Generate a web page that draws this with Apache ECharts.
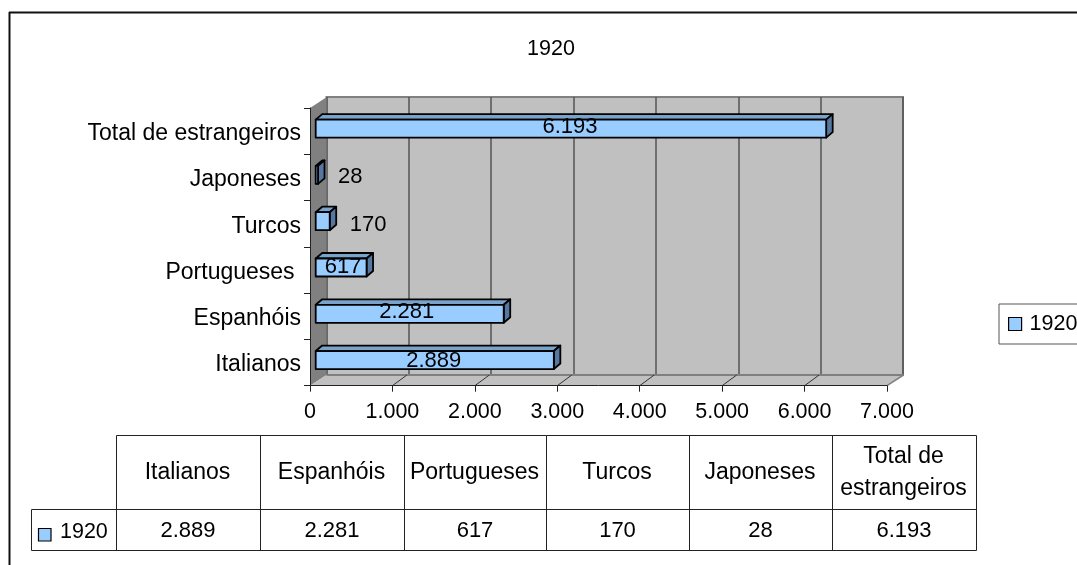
<!DOCTYPE html>
<html>
<head>
<meta charset="utf-8">
<style>html,body{margin:0;padding:0;background:#fff;overflow:hidden}#c{width:1077px;height:565px}</style>
<script src="https://cdn.jsdelivr.net/npm/echarts@6/dist/echarts.min.js"></script>
</head>
<body>
<div id="c"></div>
<script>
const categories = ['Italianos', 'Espanhóis', 'Portugueses', 'Turcos', 'Japoneses', 'Total de estrangeiros'];
const tableHeaders = ['Italianos', 'Espanhóis', 'Portugueses', 'Turcos', 'Japoneses', 'Total de\nestrangeiros'];
const values1920 = [2889, 2281, 617, 170, 28, 6193];
const labelShiftX = [-1, -3, 2, 0, 0, -1];
const labelShiftY = [0.5, -2, -1, 3.5, 2, -2];
const seriesName = '1920';
const axisTicks = [0, 1000, 2000, 3000, 4000, 5000, 6000, 7000];
const colLines = [116, 260, 404, 546, 689, 832, 976];

const FONT = '"Liberation Sans", Arial, sans-serif';
const FS = 21.5, FS_WIDE = 23, FS_NUM = 22;
const fmt = v => String(v).replace(/\B(?=(\d{3})+$)/g, '.');
const chart = echarts.init(document.getElementById('c'), null, {renderer: 'canvas'});

const DX = 6.5, DY = 5.5, BAR_H = 18, BAR_SHIFT = -2.5, BAR_X0 = 5.7;
const WALL_DX = 16.5, WALL_DY = 10.7;

function renderFrame(params, api) {
  const cs = params.coordSys, b = cs.y + cs.height, t = cs.y, l = cs.x;
  const kids = [];
  if (params.dataIndex === 0) {
    kids.push({type: 'polygon', shape: {points: [[l, t], [l + WALL_DX, t - WALL_DY], [l + WALL_DX, b - WALL_DY], [l, b]]}, style: {fill: '#808080'}});
    kids.push({type: 'polygon', shape: {points: [[l, b], [l + WALL_DX, b - WALL_DY], [l + cs.width + WALL_DX, b - WALL_DY], [l + cs.width, b]]}, style: {fill: '#c0c0c0'}});
    kids.push({type: 'line', shape: {x1: l + WALL_DX, y1: b - WALL_DY, x2: l + cs.width + WALL_DX, y2: b - WALL_DY}, style: {stroke: '#808080', lineWidth: 2}});
    kids.push({type: 'line', shape: {x1: l + cs.width, y1: b, x2: l + cs.width + WALL_DX, y2: b - WALL_DY}, style: {stroke: '#808080', lineWidth: 1.5}});
  }
  const x = api.coord([api.value(0), 0])[0];
  if (api.value(0) > 0 && api.value(0) < 7000) {
    kids.push({type: 'line', shape: {x1: x, y1: b, x2: x + WALL_DX - 2, y2: b - WALL_DY}, style: {stroke: '#333', lineWidth: 1}});
  }
  return {type: 'group', children: kids};
}

function renderBar(params, api) {
  const v = api.value(0), i = api.value(1);
  const p0 = api.coord([0, i]), p1 = api.coord([v, i]);
  const x0 = p0[0] + BAR_X0, x1 = p1[0] + BAR_X0, cy = p0[1] + BAR_SHIFT;
  const yt = cy - BAR_H / 2, yb = cy + BAR_H / 2;
  const st = {stroke: '#000', lineWidth: 1.8, lineJoin: 'round'};
  const small = v < 500;
  return {type: 'group', children: [
    {type: 'polygon', shape: {points: [[x0, yt], [x0 + DX, yt - DY], [x1 + DX, yt - DY], [x1, yt]]}, style: Object.assign({fill: '#7aa3cc'}, st)},
    {type: 'polygon', shape: {points: [[x1, yt], [x1 + DX, yt - DY], [x1 + DX, yb - DY], [x1, yb]]}, style: Object.assign({fill: '#56779f'}, st)},
    {type: 'rect', shape: {x: x0, y: yt, width: x1 - x0, height: BAR_H}, style: Object.assign({fill: '#99ccff'}, st)},
    {type: 'text', z2: 10, style: {
      text: fmt(v),
      x: small ? x1 + 20 : (x0 + x1) / 2 + labelShiftX[params.dataIndex],
      y: cy + labelShiftY[params.dataIndex],
      align: small ? 'left' : 'center', verticalAlign: 'middle',
      font: FS_NUM + 'px ' + FONT, fill: '#000'
    }}
  ]};
}

const graphics = [];
const TBL = '#222';
function line(x1, y1, x2, y2, stroke, w) {
  graphics.push({type: 'line', silent: true, z: 20, shape: {x1, y1, x2, y2}, style: {stroke: stroke || TBL, lineWidth: w || 1}});
}
function txt(s, x, y, size, align) {
  graphics.push({type: 'text', silent: true, z: 20, x, y, style: {text: s, align: align || 'center', verticalAlign: 'middle', font: size + 'px ' + FONT, fill: '#000', lineHeight: 32}});
}
// outer frame (only left and top edges are visible)
line(9.5, 12, 9.5, 565, '#111', 2);
line(9, 12.5, 1077, 12.5, '#111', 2);
// table
const Y0 = 435.5, Y1 = 509.5, Y2 = 550.5, XL = 31.5;
line(colLines[0] + .5, Y0, colLines[6] + .5, Y0);
line(XL, Y1, colLines[6] + .5, Y1);
line(XL, Y2, colLines[6] + .5, Y2);
line(XL, Y1, XL, Y2);
colLines.forEach(x => line(x + .5, Y0, x + .5, Y2));
tableHeaders.forEach((h, i) => {
  const mid = (colLines[i] + colLines[i + 1]) / 2;
  txt(h, mid - 0.5, (Y0 + Y1) / 2 + .5, FS_WIDE);
  txt(fmt(values1920[i]), mid, (Y1 + Y2) / 2 + 1, FS_NUM);
});
graphics.push({type: 'rect', silent: true, z: 20, shape: {x: 38.5, y: 528.5, width: 12.5, height: 12.5}, style: {fill: '#99ccff', stroke: '#000', lineWidth: 1.2}});
txt(seriesName, 60, (Y1 + Y2) / 2 + 2.5, FS, 'left');

chart.setOption({
  animation: false,
  backgroundColor: '#fff',
  textStyle: {fontFamily: FONT},
  title: {text: seriesName, left: 546, top: 33, textAlign: 'center',
    textStyle: {fontFamily: FONT, fontSize: FS, fontWeight: 'normal', color: '#000'}},
  legend: {
    data: [seriesName], left: 999, top: 304, orient: 'vertical',
    padding: [9, 12, 9, 9], itemWidth: 13, itemHeight: 13, itemGap: 0, icon: 'rect',
    borderColor: '#555', borderWidth: 1, backgroundColor: '#fff', selectedMode: false,
    textStyle: {fontFamily: FONT, fontSize: FS, color: '#000', padding: [0, 0, 0, 3]},
    itemStyle: {color: '#99ccff', borderColor: '#000', borderWidth: 1.2}
  },
  grid: [
    {left: 310, top: 108, width: 577, height: 277.7, containLabel: false},
    {left: 326.5, top: 97, width: 576.5, height: 278, show: true, backgroundColor: '#c0c0c0', borderColor: '#808080', borderWidth: 2}
  ],
  xAxis: [
    {type: 'value', gridIndex: 0, min: 0, max: 7000, interval: 1000, z: 6,
      axisLine: {show: true, onZero: false, lineStyle: {color: '#222', width: 1}},
      axisTick: {show: true, length: 6, lineStyle: {color: '#222'}},
      splitLine: {show: false},
      axisLabel: {margin: 15, formatter: v => fmt(v), color: '#000', fontFamily: FONT, fontSize: FS, hideOverlap: false}},
    {type: 'value', gridIndex: 1, min: 0, max: 7000, interval: 1000,
      axisLine: {show: false}, axisTick: {show: false}, axisLabel: {show: false},
      splitLine: {show: true, lineStyle: {color: '#555', width: 1.5}}}
  ],
  yAxis: [
    {type: 'category', gridIndex: 0, data: categories, z: 6,
      axisLine: {show: true, lineStyle: {color: '#222', width: 1}},
      axisTick: {show: true, length: 6, alignWithLabel: false, lineStyle: {color: '#222'}},
      splitLine: {show: false},
      axisLabel: {margin: 9, interval: 0, color: '#000', fontFamily: FONT, fontSize: FS_WIDE,
        rich: {c: {fontFamily: FONT, fontSize: FS_WIDE, color: '#000', padding: [5, 0, 0, 0]}},
        formatter: v => '{c|' + (v === 'Portugueses' ? v + '\u00a0' : v) + '}'}},
    {type: 'value', gridIndex: 1, show: false, min: 0, max: 1, splitLine: {show: false}}
  ],
  series: [
    {type: 'custom', name: 'frame', xAxisIndex: 0, yAxisIndex: 0, silent: true, z: 1, clip: false,
      data: axisTicks.map(t => [t, 0]), encode: {x: 0, y: 1}, renderItem: renderFrame},
    {type: 'custom', name: seriesName, xAxisIndex: 0, yAxisIndex: 0, z: 8, clip: false,
      itemStyle: {color: '#99ccff'},
      data: values1920.map((v, i) => [v, i]), encode: {x: 0, y: 1}, renderItem: renderBar}
  ],
  graphic: {elements: graphics}
});
</script>
</body>
</html>
